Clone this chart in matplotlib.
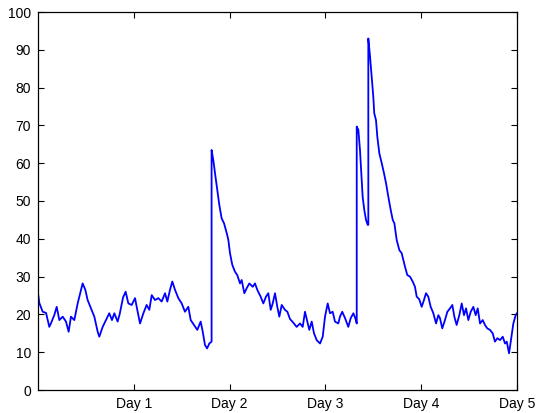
import matplotlib
matplotlib.use("Agg")
import matplotlib.pyplot as plt

# values (x in days, y in signal units)
days = [0.000, 0.014, 0.049, 0.084, 0.118, 0.136, 0.170, 0.195, 0.223, 0.258,
        0.292, 0.320, 0.344, 0.379, 0.414, 0.449, 0.466, 0.494, 0.518, 0.553,
        0.588, 0.623, 0.640, 0.675, 0.710, 0.744, 0.772, 0.797, 0.831, 0.852,
        0.888, 0.915, 0.943, 0.978, 1.013, 1.030, 1.065, 1.100, 1.134, 1.162,
        1.187, 1.221, 1.256, 1.291, 1.326, 1.350, 1.378, 1.402, 1.430, 1.465,
        1.500, 1.534, 1.569, 1.594, 1.628, 1.663, 1.698, 1.719, 1.743, 1.765,
        1.788, 1.812, 1.812, 1.830, 1.848, 1.872, 1.893, 1.917, 1.942, 1.970,
        1.987, 2.004, 2.028, 2.056, 2.080, 2.109, 2.126, 2.154, 2.178, 2.206,
        2.241, 2.265, 2.289, 2.324, 2.352, 2.380, 2.404, 2.429, 2.450, 2.474,
        2.498, 2.519, 2.544, 2.578, 2.603, 2.630, 2.665, 2.700, 2.735, 2.763,
        2.787, 2.811, 2.832, 2.857, 2.881, 2.909, 2.944, 2.972, 2.996, 3.024,
        3.048, 3.076, 3.100, 3.135, 3.152, 3.176, 3.205, 3.239, 3.264, 3.292,
        3.316, 3.327, 3.327, 3.344, 3.361, 3.372, 3.389, 3.406, 3.424, 3.441,
        3.448, 3.448, 3.466, 3.483, 3.500, 3.510, 3.528, 3.542, 3.563, 3.588,
        3.612, 3.633, 3.657, 3.682, 3.703, 3.720, 3.744, 3.772, 3.796, 3.813,
        3.831, 3.855, 3.883, 3.911, 3.935, 3.953, 3.980, 4.005, 4.029, 4.050,
        4.074, 4.099, 4.127, 4.155, 4.179, 4.196, 4.220, 4.248, 4.273, 4.301,
        4.325, 4.346, 4.370, 4.398, 4.423, 4.447, 4.468, 4.492, 4.517, 4.544,
        4.569, 4.590, 4.614, 4.642, 4.666, 4.690, 4.718, 4.746, 4.770, 4.795,
        4.823, 4.851, 4.875, 4.893, 4.917, 4.937, 4.962, 4.986, 5.000]
values = [25.6, 23.0, 20.7, 20.4, 16.7, 17.7, 19.8, 22.0, 18.5, 19.4,
          18.1, 15.4, 19.4, 18.5, 22.9, 26.5, 28.2, 26.5, 23.8, 21.6,
          19.4, 15.4, 14.1, 16.7, 18.5, 20.3, 18.5, 20.3, 18.1, 20.0,
          24.5, 26.0, 22.9, 22.5, 24.3, 22.0, 17.6, 20.3, 22.5, 21.2,
          25.1, 23.8, 24.3, 23.4, 25.6, 23.4, 26.5, 28.7, 26.5, 24.3,
          22.9, 20.7, 22.0, 18.5, 17.2, 15.9, 18.1, 15.5, 11.9, 11.0,
          12.3, 12.8, 63.5, 60.8, 57.3, 52.9, 48.9, 45.4, 44.1, 41.5,
          39.7, 36.2, 33.1, 31.3, 30.4, 28.2, 29.1, 25.6, 26.9, 28.2,
          27.3, 28.2, 26.5, 24.7, 22.9, 24.7, 25.6, 21.2, 22.9, 25.6,
          22.0, 19.4, 22.5, 21.2, 20.7, 18.8, 17.8, 16.7, 17.6, 16.7,
          20.7, 18.1, 15.9, 18.1, 15.0, 13.2, 12.3, 14.1, 19.4, 22.9,
          20.3, 20.7, 18.1, 17.6, 19.4, 20.7, 19.0, 16.7, 19.0, 20.3,
          18.7, 17.6, 69.7, 68.8, 63.5, 58.6, 51.1, 47.6, 45.0, 43.7,
          43.7, 93.0, 88.2, 82.9, 77.6, 73.2, 71.4, 67.0, 62.6, 60.0,
          57.3, 54.7, 51.1, 47.6, 45.0, 44.1, 39.7, 37.0, 36.2, 34.4,
          32.6, 30.4, 30.0, 28.7, 27.3, 24.7, 24.0, 22.0, 23.8, 25.6,
          24.7, 22.0, 20.3, 17.6, 19.8, 19.0, 16.3, 18.5, 20.7, 21.6,
          22.5, 19.4, 17.2, 19.8, 22.9, 19.8, 21.6, 18.5, 20.7, 22.0,
          19.8, 21.6, 17.6, 18.5, 17.2, 16.3, 15.9, 15.0, 12.8, 13.7,
          13.2, 14.1, 12.3, 12.8, 9.7, 13.2, 17.6, 19.8, 20.3]

x_ticks = [1, 2, 3, 4, 5]
x_labels = ["Day 1", "Day 2", "Day 3", "Day 4", "Day 5"]
y_ticks = list(range(0, 101, 10))

plt.rcParams["font.family"] = ["Liberation Sans", "DejaVu Sans"]

fig = plt.figure(figsize=(5.37, 4.13), dpi=100)
ax = fig.add_axes([38 / 537, 23 / 413, 479 / 537, 378 / 413])
ax.plot(days, values, color="#0000ff", lw=1.3)

ax.set_xlim(0, 5)
ax.set_ylim(0, 100)
ax.set_xticks(x_ticks)
ax.set_xticklabels(x_labels)
ax.set_yticks(y_ticks)
ax.tick_params(direction="in", length=4, width=0.8, top=True, right=True,
               labelsize=10, pad=5)
for s in ax.spines.values():
    s.set_linewidth(0.9)

fig.savefig("out.png", dpi=100)
